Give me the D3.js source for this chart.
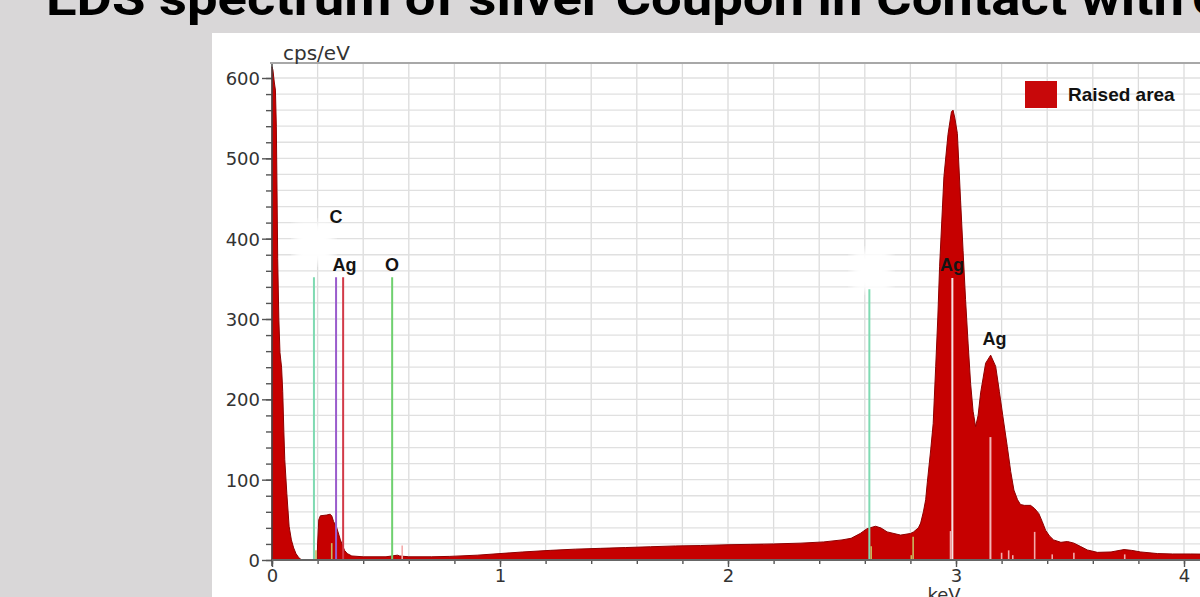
<!DOCTYPE html>
<html><head><meta charset="utf-8">
<script src="https://cdn.jsdelivr.net/npm/d3@7"></script>
<style>html,body{margin:0;padding:0;background:#d9d7d8;overflow:hidden}</style>
</head><body>
<svg id="c" width="1200" height="597"></svg>
<script>
// ---- data ----
const titleText = "EDS spectrum of silver Coupon in Contact with";
const seriesName = "Raised area";
const energyKeV = [0.000,0.004,0.010,0.015,0.019,0.022,0.025,0.030,0.035,0.042,0.047,0.052,0.056,0.065,0.075,0.085,0.095,0.105,0.117,0.130,
  0.198,0.200,0.205,0.212,0.240,0.255,0.262,0.270,0.283,0.300,0.318,0.330,0.350,0.400,0.500,0.550,0.560,0.600,0.700,0.780,0.900,
  1.000,1.100,1.220,1.330,1.440,1.550,1.660,1.770,1.880,2.000,2.100,2.200,2.320,2.420,2.500,2.540,2.580,2.610,2.647,2.670,2.698,
  2.757,2.800,2.814,2.835,2.845,2.857,2.867,2.874,2.889,2.900,2.911,2.920,2.928,2.947,2.965,2.980,2.987,2.995,3.006,3.020,3.031,
  3.042,3.053,3.064,3.075,3.086,3.097,3.108,3.130,3.152,3.174,3.190,3.205,3.225,3.240,3.254,3.270,3.283,3.300,3.327,3.345,3.363,
  3.378,3.393,3.410,3.428,3.460,3.489,3.517,3.545,3.576,3.620,3.680,3.737,3.770,3.810,3.884,3.950,4.030,4.200];
const countsCps = [614,610,595,585,540,460,375,300,258,240,210,160,125,83,42,25,15,8,3,0,
  0,20,50,55,56,57,55,48,41,25,12,8,5,4,4,6,5,4,4,4.5,6,
  8,10,12,13.5,14.5,15.5,16.5,17.5,18,19,19.5,20,21,22.5,25,27,33,39,42,40,35,
  31,33,35,40,46,60,75,96,137,170,241,300,365,477,530,558,560,550,531,448,385,
  324,270,220,185,166,180,208,245,255,241,210,180,141,110,87,75,69,68,68,64,58,
  48,37,30,25,22,23,21,17,12.5,9.5,10,13,12,10,8,7.5,7.5,7];
const lineEnergy = [0.184, 0.281, 0.312, 0.527, 2.620, 2.984, 3.151];
const lineHeight = [352, 352, 352, 352, 337, 351, 153];
const lineKind   = ["mint","purple","crimson","green","mint","agA","agB"];
const stubEnergy = [0.193, 0.262, 0.571, 2.628, 2.804, 2.812, 2.976, 3.200, 3.231, 3.249, 3.345, 3.422, 3.517, 3.740];
const stubHeight = [12, 21, 18, 17, 6, 29, 36, 9, 12, 6, 35, 7, 9, 7];
const stubKind   = ["olive","olive","pink","olive","olive","olive","pink","pink","pink","pink","pink","pink","pink","pink"];
const peakLabels = ["C","Ag","O","Ag","Ag"];
const peakLabelEnergy = [0.281, 0.318, 0.526, 2.982, 3.169];
const peakLabelValue  = [420, 360, 360, 360, 268];
const xTickValues = [0,1,2,3,4];
const yTickValues = [0,100,200,300,400,500,600];

// ---- styles ----
const colorOf = {mint:"#7fdab2", purple:"#9a5ccc", crimson:"#d23a48", green:"#6fd06f",
  agA:"#f7e4e4", agB:"#f2b6b6", olive:"#c9b85e", pink:"#f3aaaa"};
const red = "#c60000";

const svg = d3.select("#c");
const defs = svg.append("defs");
defs.append("filter").attr("id","blur").append("feGaussianBlur").attr("stdDeviation",4);

// panel
svg.append("rect").attr("x",0).attr("y",0).attr("width",1200).attr("height",597).attr("fill","#d9d7d8");
svg.append("rect").attr("x",212).attr("y",33).attr("width",988).attr("height",564).attr("fill","#ffffff");

// title
svg.append("text").attr("x",46).attr("y",15)
  .attr("font-family","Roboto, 'Liberation Sans', sans-serif").attr("font-weight",700).attr("font-size",48)
  .attr("textLength",1138).attr("lengthAdjust","spacingAndGlyphs").attr("fill","#000").text(titleText);
svg.append("text").attr("x",1192).attr("y",15)
  .attr("font-family","Roboto, 'Liberation Sans', sans-serif").attr("font-weight",700).attr("font-size",48)
  .attr("fill","#000").text("C");

// scales
const x = d3.scaleLinear().domain([0,4]).range([272,1184]);
const y = d3.scaleLinear().domain([0,600]).range([560,78]);
const yTop = y.invert(63);

// grid
const g = svg.append("g");
const vGrid = d3.range(1,26).map(i=>i*0.2);
const hGrid = d3.range(1,31).map(i=>i*20);
g.selectAll("line.v").data(vGrid).join("line")
  .attr("x1",d=>x(d)).attr("x2",d=>x(d)).attr("y1",y(yTop)).attr("y2",y(0))
  .attr("stroke","#dcdcdc").attr("stroke-width",1.3);
g.selectAll("line.h").data(hGrid).join("line")
  .attr("x1",x(0)).attr("x2",1200).attr("y1",d=>y(d)).attr("y2",d=>y(d))
  .attr("stroke","#e0e0e0").attr("stroke-width",1.3);
// top border
g.append("line").attr("x1",x(0)-2).attr("x2",1200).attr("y1",y(yTop)).attr("y2",y(yTop))
  .attr("stroke","#a8a8a8").attr("stroke-width",2);

// white blobs (hidden label backgrounds)
svg.append("rect").attr("x",x(0.10)).attr("y",y(420)).attr("width",38).attr("height",40)
  .attr("fill","#fff").attr("filter","url(#blur)");
svg.append("rect").attr("x",x(2.545)).attr("y",y(385)).attr("width",38).attr("height",40)
  .attr("fill","#fff").attr("filter","url(#blur)");

// spectrum area
const pts = energyKeV.map((e,i)=>[e,countsCps[i]]);
const area = d3.area().x(d=>x(d[0])).y0(y(0)).y1(d=>y(d[1])).curve(d3.curveLinear);
svg.append("path").datum(pts).attr("d",area).attr("fill",red)
  .attr("stroke","#8e0000").attr("stroke-width",1).attr("stroke-linejoin","round");

// element marker lines
svg.selectAll("line.mk").data(lineEnergy).join("line")
  .attr("x1",d=>x(d)).attr("x2",d=>x(d)).attr("y1",(d,i)=>y(lineHeight[i])).attr("y2",y(0))
  .attr("stroke",(d,i)=>colorOf[lineKind[i]]).attr("stroke-width",2);
// small stub lines
svg.selectAll("line.st").data(stubEnergy).join("line")
  .attr("x1",d=>x(d)).attr("x2",d=>x(d)).attr("y1",(d,i)=>y(stubHeight[i])).attr("y2",y(0))
  .attr("stroke",(d,i)=>colorOf[stubKind[i]]).attr("stroke-width",1.6);

// peak labels
svg.selectAll("text.pl").data(peakLabels).join("text")
  .attr("x",(d,i)=>x(peakLabelEnergy[i])).attr("y",(d,i)=>y(peakLabelValue[i]))
  .attr("text-anchor","middle").attr("font-family","'Liberation Sans', Arial, sans-serif")
  .attr("font-weight",700).attr("font-size",18).attr("fill","#141414").text(d=>d);

// axes
const axisFont = "'DejaVu Sans', Verdana, sans-serif";
const yMinor = d3.axisLeft(y).tickValues(d3.range(0,31).map(i=>i*20)).tickSize(6).tickFormat("");
const yMajor = d3.axisLeft(y).tickValues(yTickValues).tickSize(10).tickPadding(2).tickFormat(d3.format("d"));
const yg1 = svg.append("g").attr("transform",`translate(${x(0)},0)`).call(yMinor);
const yg2 = svg.append("g").attr("transform",`translate(${x(0)},0)`).call(yMajor);
[yg1,yg2].forEach(a=>{a.select(".domain").remove(); a.selectAll("line").attr("stroke","#555").attr("stroke-width",1.4);});
yg2.selectAll("text").attr("font-family",axisFont).attr("font-size",18).attr("fill","#333").attr("dy","0.36em");
svg.append("line").attr("x1",x(0)).attr("x2",x(0)).attr("y1",y(yTop)+1).attr("y2",y(0)+6)
  .attr("stroke","#444").attr("stroke-width",1.5);

const xMinor = d3.axisBottom(x).tickValues(d3.range(0,26).map(i=>i*0.2)).tickSize(4).tickFormat("");
const xMajor = d3.axisBottom(x).tickValues(xTickValues).tickSize(7).tickPadding(2).tickFormat(d3.format("d"));
const xg1 = svg.append("g").attr("transform",`translate(0,${y(0)})`).call(xMinor);
const xg2 = svg.append("g").attr("transform",`translate(0,${y(0)})`).call(xMajor);
[xg1,xg2].forEach(a=>{a.select(".domain").remove(); a.selectAll("line").attr("stroke","#555").attr("stroke-width",1.4);});
xg2.selectAll("text").attr("font-family",axisFont).attr("font-size",18).attr("fill","#333");
svg.append("line").attr("x1",x(0)).attr("x2",1200).attr("y1",y(0)).attr("y2",y(0))
  .attr("stroke","#666").attr("stroke-width",2);

// axis titles
svg.append("text").attr("x",283).attr("y",60).attr("font-family",axisFont).attr("font-size",20)
  .attr("fill","#333").text("cps/eV");
svg.append("text").attr("x",944).attr("y",601).attr("text-anchor","middle").attr("font-family",axisFont)
  .attr("font-size",18).attr("fill","#333").text("keV");

// legend
svg.append("rect").attr("x",1025).attr("y",81).attr("width",32).attr("height",27).attr("fill","#c8080a");
svg.append("text").attr("x",1068).attr("y",101).attr("font-family","'Liberation Sans', Arial, sans-serif")
  .attr("font-weight",700).attr("font-size",19).attr("fill","#111").text(seriesName);
</script>
</body></html>
